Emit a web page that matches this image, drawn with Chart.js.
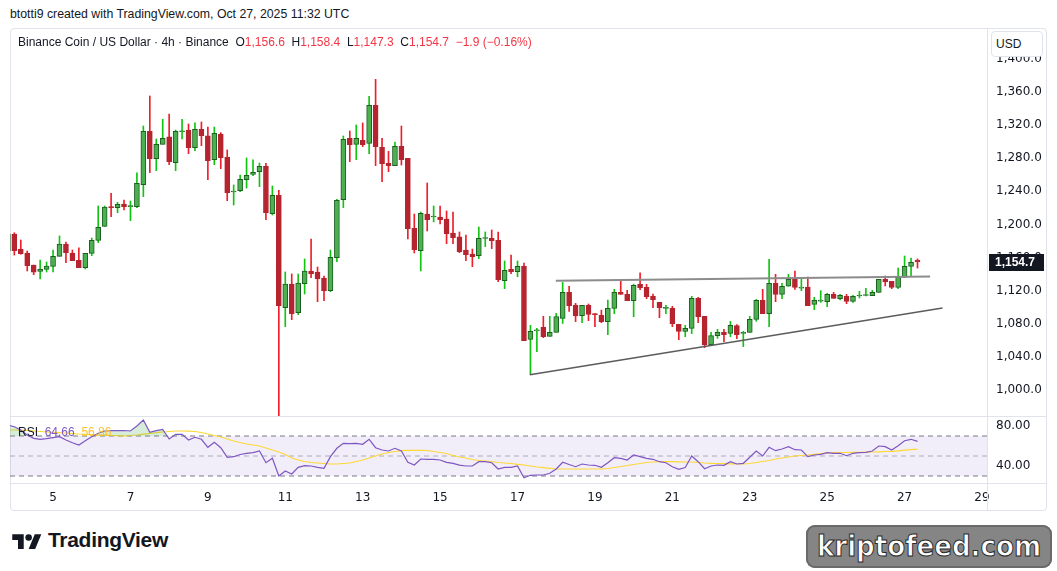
<!DOCTYPE html>
<html lang="en">
<head>
    <meta charset="UTF-8">
    <title>BNB / USD 4h</title>
    <script src="https://cdn.jsdelivr.net/npm/chart.js"></script>
    <style>
        body { margin: 0; width: 1057px; height: 571px; overflow: hidden; background: #fff;
               font-family: "Liberation Sans", Arial, sans-serif; color: #131722; position: relative; }
        .abs { position: absolute; }
        #frame { left: 10px; top: 28px; width: 1037px; height: 483px; box-sizing: border-box;
                 border: 1px solid #e0e3eb; border-radius: 4px; }
        .vline { left: 987px; top: 28px; width: 1px; height: 483px; background: #e0e3eb; }
        .hline { left: 10px; width: 1037px; height: 1px; background: #e0e3eb; }
        #title { left: 10px; top: 7px; font-size: 12.3px; white-space: nowrap; }
        #legend { left: 18px; top: 35px; font-size: 12px; white-space: nowrap; }
        #legend .v { color: #f23645; }
        #rsiLegend { left: 18px; top: 425px; font-size: 12px; white-space: nowrap; }
        #usd { left: 991px; top: 31px; width: 52px; height: 26px; box-sizing: border-box; background: #fff;
               border: 1px solid #e0e3eb; border-radius: 4px; font-size: 12px; line-height: 24px; padding-left: 4px; }
        #logo { left: 12px; top: 528px; font-size: 21px; font-weight: bold; letter-spacing: -0.3px; display: flex; align-items: center; }
        #logo svg { margin-right: 6px; }
        #mark { left: 806px; top: 525px; width: 246px; height: 43px; background: #858585; border-radius: 9px;
                box-shadow: inset 0 0 0 2px #6a6a6a; color: #fff; font-family: "DejaVu Sans Condensed", "DejaVu Sans", sans-serif;
                font-weight: bold; font-size: 29px; line-height: 43px; text-align: center;
                -webkit-text-stroke: 1px #2b2b2b; }
    </style>
</head>
<body>
    <div id="title" class="abs">btotti9 created with TradingView.com, Oct 27, 2025 11:32 UTC</div>
    <div id="frame" class="abs"></div>

    <canvas id="price" class="abs" width="1037" height="388" style="left:10px;top:28px"></canvas>
    <canvas id="rsi" class="abs" width="1037" height="95" style="left:10px;top:416px"></canvas>

    <div class="abs vline"></div>
    <div class="abs hline" style="top:416px"></div>
    <div class="abs hline" style="top:483px"></div>

    <div id="legend" class="abs">Binance Coin / US Dollar · 4h · Binance&nbsp;&nbsp;O<span class="v">1,156.6</span>&nbsp;&nbsp;H<span class="v">1,158.4</span>&nbsp;&nbsp;L<span class="v">1,147.3</span>&nbsp;&nbsp;C<span class="v">1,154.7</span>&nbsp;&nbsp;<span class="v">−1.9 (−0.16%)</span></div>
    <div id="usd" class="abs">USD</div>
    <div id="rsiLegend" class="abs">RSI&nbsp;&nbsp;<span style="color:#7e57c2">64.66</span>&nbsp;&nbsp;<span style="color:#fbc02d">56.86</span></div>

    <div id="logo" class="abs">
        <svg width="30" height="18" viewBox="0 0 36 22"><path d="M14 22H7V11H0V4h14v18zM28 22h-8l7.5-18h8L28 22z" fill="#131722"/><circle cx="20" cy="8" r="4" fill="#131722"/></svg>
        TradingView
    </div>
    <div id="mark" class="abs">kriptofeed.com</div>

    <script>
        // 4h candles, first one Oct 3 20:00 UTC, x value = day of month + hour/24
        const firstCandleDay = 3 + 20 / 24;
        const candleStep = 4 / 24;

        const opens = [1168.3, 1188.5, 1170.3, 1165.5, 1151, 1143.4, 1145.8, 1149.4, 1161.5, 1176.4,
            1165.5, 1156.7, 1147.8, 1165.1, 1180.8, 1197.7, 1221.5, 1220.3, 1224.7, 1221.5,
            1221.5, 1248.1, 1312.5, 1279.5, 1296.8, 1305.7, 1274.7, 1312, 1314.1, 1292.8,
            1314.9, 1306.9, 1278.3, 1309.3, 1281.1, 1239.2, 1240.8, 1254.1, 1260.5, 1263.8,
            1270.2, 1213, 1235.2, 1099.5, 1128.1, 1093.4, 1128.5, 1143.8, 1142.6, 1135.3,
            1120, 1159.9, 1229.9, 1304, 1296.8, 1301.6, 1298, 1343.9, 1293.2, 1273.8,
            1271, 1294.4, 1279.9, 1195.3, 1168.3, 1212.6, 1209, 1209, 1206.6, 1189.7,
            1184.9, 1169.1, 1164.3, 1162.3, 1183, 1183.2, 1180.8, 1132.1, 1145.8, 1143,
            1149.4, 1061.2, 1071.5, 1075.7, 1064.8, 1069.7, 1086.6, 1118, 1102.7, 1089.8,
            1102.3, 1092.2, 1090.2, 1082.6, 1098.7, 1118, 1115.6, 1107.9, 1127.7, 1124,
            1113.2, 1105.9, 1098.7, 1098.7, 1079.3, 1070.9, 1074.5, 1110.7, 1089, 1054.8,
            1065.6, 1069.7, 1068.5, 1077.7, 1068.5, 1069.7, 1085.4, 1108.3, 1092.2, 1128.9,
            1115.6, 1125.3, 1133.7, 1123, 1124.4, 1103.5, 1107.3, 1106.7, 1115.6, 1110.3,
            1113.2, 1107.1, 1113.6, 1114.2, 1114, 1118, 1133.7, 1131.3, 1124, 1136.1,
            1149.4, 1156.6];
        const highs = [1190, 1190, 1181.2, 1167.9, 1151, 1157.1, 1154.6, 1169.1, 1186.1, 1178.8,
            1169.1, 1171.6, 1165.1, 1183.6, 1222.3, 1222.3, 1237.6, 1226.7, 1229.5, 1228.3,
            1262.2, 1318.9, 1355.2, 1303.2, 1327, 1333.4, 1314.1, 1327, 1321.4, 1322.6,
            1323.8, 1317.7, 1317.7, 1310.9, 1290, 1247.7, 1259.7, 1280.3, 1277.9, 1274.2,
            1273.8, 1246.5, 1241.2, 1142.6, 1140.2, 1140.2, 1158.3, 1182.4, 1148.6, 1137.7,
            1169.1, 1230.4, 1306.9, 1312.9, 1320.2, 1322.6, 1354.8, 1375.3, 1304, 1288.3,
            1299.6, 1318.9, 1279.9, 1212.6, 1215, 1250.1, 1222.3, 1222.3, 1216.3, 1215,
            1190.9, 1187.3, 1170.3, 1196.9, 1190.9, 1193.3, 1190.9, 1155.9, 1163.1, 1155.9,
            1153.4, 1078.1, 1074.5, 1089, 1089, 1092.6, 1130.1, 1125.3, 1104.7, 1102.3,
            1103.9, 1092.2, 1096.6, 1108.7, 1121.6, 1131.7, 1120.4, 1127.7, 1141.4, 1127.7,
            1116, 1105.9, 1102.3, 1101.1, 1079.3, 1078.1, 1113.2, 1112, 1089, 1069.7,
            1073.3, 1073.3, 1083, 1078.9, 1070.9, 1089, 1109.5, 1121.6, 1157.9, 1139.8,
            1128.9, 1139.8, 1143.8, 1134.1, 1136.5, 1112, 1120, 1116.8, 1118, 1115.6,
            1115.6, 1114.4, 1119.2, 1122.8, 1120.4, 1133.7, 1137.7, 1131.3, 1147.4, 1161.9,
            1159.5, 1158.4];
        const lows = [1160, 1163, 1164, 1143.8, 1139.3, 1134.1, 1142.6, 1142.6, 1161.5, 1153.8,
            1156.3, 1147.8, 1146.2, 1162.3, 1178, 1197.7, 1209.4, 1214.2, 1217.5, 1204.6,
            1220.3, 1233.6, 1262.6, 1265, 1296.8, 1272.2, 1265, 1303.2, 1285.5, 1289.1,
            1295.2, 1254.1, 1272.2, 1267.4, 1228.7, 1223.5, 1239.6, 1244, 1259, 1245.7,
            1205.8, 1211.4, 860, 1076.5, 1085, 1091, 1116, 1135.7, 1106.7, 1108,
            1118.8, 1155, 1220.3, 1275.9, 1278.3, 1294, 1285.5, 1271, 1251.7, 1263.8,
            1271, 1271.8, 1182.4, 1165.5, 1143.8, 1192.1, 1203, 1200.6, 1176.8, 1176.8,
            1165.9, 1156.3, 1149, 1158.7, 1173.2, 1170.8, 1130.9, 1122.4, 1140.6, 1136.9,
            1059.6, 1018.5, 1046.3, 1063.2, 1064.8, 1069.7, 1080.5, 1095, 1082.6, 1081.3,
            1083.8, 1076.5, 1081.3, 1066.9, 1092.2, 1115.6, 1107.9, 1088.6, 1121.2, 1110.3,
            1099.5, 1087.4, 1092.2, 1076.5, 1060.8, 1064.4, 1068.1, 1081.3, 1051.2, 1053.6,
            1062.4, 1058.4, 1064.4, 1062, 1052.4, 1069.7, 1083, 1092.2, 1076.5, 1106.7,
            1110.3, 1125.3, 1121.6, 1120, 1101.9, 1097.1, 1105.9, 1100.7, 1110.7, 1108.7,
            1104.3, 1105.9, 1111.2, 1113.6, 1114, 1118, 1125.7, 1122.4, 1122.4, 1136.1,
            1137.7, 1147.3];
        const closes = [1188.5, 1168.3, 1164.7, 1150.2, 1142.2, 1146.2, 1149.8, 1161.5, 1176.4, 1165.9,
            1156.3, 1147.8, 1165.1, 1180.8, 1196.5, 1221.1, 1220.3, 1224.3, 1221.5, 1222.3,
            1249.7, 1312.5, 1279.5, 1296.8, 1304, 1275.9, 1312.5, 1312.5, 1292.8, 1314.9,
            1307.3, 1277.1, 1310.1, 1280.7, 1238.4, 1239.6, 1254.5, 1259.3, 1262.9, 1270.2,
            1214.2, 1235.2, 1101.9, 1128.1, 1092.2, 1129.3, 1143.8, 1140.6, 1134.1, 1120,
            1160.3, 1229.1, 1302.8, 1296.4, 1304, 1296.4, 1343.9, 1294, 1273.4, 1271,
            1294.4, 1278.3, 1194.9, 1169.5, 1213.4, 1205.8, 1209.2, 1205.8, 1188.9, 1184.1,
            1167.1, 1163.5, 1161.1, 1183.2, 1183.2, 1180.4, 1133.3, 1144.6, 1143, 1149.4,
            1059.6, 1070.9, 1071.7, 1064.4, 1069.7, 1088.6, 1118, 1101.9, 1089.4, 1102.3,
            1091.4, 1091, 1082.6, 1098.7, 1118, 1115.6, 1107.9, 1126.5, 1123.6, 1112.8,
            1109.1, 1099.5, 1098.9, 1080.1, 1070.9, 1074.5, 1110.7, 1088.6, 1054.8, 1065.6,
            1069.7, 1066.9, 1078.1, 1066.9, 1069.7, 1085.4, 1108.3, 1092.2, 1128.9, 1115.6,
            1125.3, 1133.7, 1124, 1123.3, 1101.9, 1108.3, 1107.5, 1115.6, 1110.7, 1114.4,
            1107.1, 1113.2, 1114.4, 1114.4, 1118, 1133.7, 1130.5, 1124, 1136.1, 1149.4,
            1154.2, 1154.7];

        const rsiValues = [81, 79.3, 76, 71, 67.7, 66.7, 67.3, 68.3, 69.3, 66,
            63.3, 61, 65.3, 69.3, 72.7, 75, 75.3, 75.3, 75.5, 75,
            80, 86, 73.7, 75.3, 76.7, 67, 71.7, 71.7, 66, 68.7,
            66.7, 58.7, 63.7, 58.3, 48.7, 49.3, 51.5, 52.7, 53.3, 55,
            43.3, 47.7, 30, 35, 32, 38.7, 40.3, 40, 38.7, 37.7,
            49.3, 57.7, 62.7, 62.3, 62.7, 61.7, 66.7, 58.3, 56, 55,
            57.7, 55, 43.7, 41, 47, 46.7, 46.7, 46, 43.7, 42.7,
            40.8, 40, 40, 44.3, 44.3, 43.3, 37, 38.7, 38.7, 40,
            28.3, 30.7, 31, 31, 32.7, 37, 43.7, 41.5, 39.3, 42,
            41, 40.7, 38.7, 43.3, 48.3, 47.7, 46, 51, 49.3, 47.7,
            46.7, 44.3, 43.3, 39.3, 36.7, 38.5, 50, 44.3, 37.3, 40,
            41, 40.7, 44.3, 42, 42.7, 48.7, 55, 50, 58.7, 55.3,
            57, 59.3, 56.3, 56, 49.3, 51, 51.7, 53.3, 52.7, 52.7,
            50.3, 52.7, 53.3, 53.7, 55, 60, 59.3, 56, 60.3, 65.3,
            66.7, 64.66];
        const rsiMaValues = [76, 76, 75.8, 75.5, 75, 74.5, 74, 73.7, 73.3, 73,
            72.5, 72, 71.7, 71.3, 71, 70.8, 70.5, 70.3, 70.2, 70.5,
            71, 71.8, 72.5, 73.3, 74, 74.5, 75, 75, 74.8, 74.5,
            73.5, 72, 70.5, 69, 67, 65, 63.5, 62, 61, 60,
            58, 56, 54, 51.5, 48, 46, 44.5, 43.5, 43, 42.5,
            42, 42, 42.5, 43, 44.5, 46, 48, 50, 52, 53.5,
            54.5, 55.3, 55.7, 55.7, 55.7, 55.5, 54.5, 53.5, 52.5, 50.5,
            49, 48, 46.5, 45.5, 45, 44.5, 43.5, 43, 42.5, 41.7,
            41, 40, 39, 38.3, 37.7, 37, 37, 37, 37, 37,
            37, 37, 37, 37.5, 38.5, 39.5, 40.5, 41.5, 42.5, 43.5,
            44, 44.3, 44.3, 44.3, 44.2, 44, 44, 43.5, 43, 42.7,
            42.5, 42.3, 42.2, 42, 42, 42.5, 43.5, 44.5, 45.5, 47,
            48, 49, 50, 50.5, 51, 51.7, 52.3, 53, 53.3, 53.5,
            53.5, 53.6, 53.7, 53.8, 54, 54.2, 54.5, 54.7, 55.2, 55.8,
            56.3, 56.86];

        // drawn trend lines (day, price)
        const resistanceDays = [17.99, 27.66];
        const resistancePrices = [1132, 1137];
        const supportDays = [17.32, 27.98];
        const supportPrices = [1018.5, 1099];

        const dayTicks = [5, 7, 9, 11, 13, 15, 17, 19, 21, 23, 25, 27, 29];
        const priceTicks = [1000, 1040, 1080, 1120, 1160, 1200, 1240, 1280, 1320, 1360, 1400];
        const rsiTicks = [40, 80];
        const rsiLevels = [70, 50, 30];

        const xMin = 3.888, xMax = 29.155;
        const axisFont = { family: '"DejaVu Sans", sans-serif', size: 12 };

        const days = opens.map((_, i) => firstCandleDay + i * candleStep);
        const up = closes.map((c, i) => c >= opens[i]);
        const fmtPrice = v => v.toLocaleString('en-US', { minimumFractionDigits: 1, maximumFractionDigits: 1 });
        const pts = (xs, ys) => xs.map((x, i) => ({ x: x, y: ys[i] }));

        // fixed axis size, and no label padding eating into the plot area
        const fitY = s => { s.width = 59; s.paddingTop = 0; s.paddingBottom = 0; };
        const fitX = s => { s.height = 28; s.paddingLeft = 0; s.paddingRight = 0; };

        // dark tag with the last close on the price axis
        const lastPriceTag = {
            id: 'lastPriceTag',
            afterDraw(chart) {
                const last = closes[closes.length - 1];
                const y = Math.round(chart.scales.y.getPixelForValue(last));
                const ctx = chart.ctx;
                const left = chart.chartArea.right + 1;
                ctx.save();
                ctx.fillStyle = '#131722';
                ctx.fillRect(left, y - 8, 55, 17);
                ctx.fillStyle = '#ffffff';
                ctx.font = 'bold 12px "Liberation Sans", Arial, sans-serif';
                ctx.textBaseline = 'middle';
                ctx.fillText(fmtPrice(last), left + 6, y + 1);
                ctx.restore();
            }
        };

        new Chart(document.getElementById('price'), {
            type: 'bar',
            data: {
                datasets: [
                    { type: 'line', data: pts(resistanceDays, resistancePrices), borderColor: '#8c8c8c', borderWidth: 2, pointRadius: 0, order: 0 },
                    { type: 'line', data: pts(supportDays, supportPrices), borderColor: '#5c5c5c', borderWidth: 1.5, pointRadius: 0, order: 0 },
                    {
                        data: days.map((d, i) => ({ x: d, y: [opens[i], closes[i]] })),
                        backgroundColor: up.map(u => u ? '#4caf50' : '#b5242f'),
                        borderColor: up.map(u => u ? '#1b5e20' : '#b5242f'),
                        borderWidth: 1, borderSkipped: false, barThickness: 5, minBarLength: 1,
                        grouped: false, order: 1
                    },
                    {
                        data: days.map((d, i) => ({ x: d, y: [lows[i], highs[i]] })),
                        backgroundColor: up.map(u => u ? '#12c412' : '#ee1f2a'),
                        barThickness: 1, grouped: false, order: 2
                    }
                ]
            },
            options: {
                responsive: false,
                animation: false,
                events: [],
                layout: { padding: 0 },
                plugins: { legend: { display: false }, tooltip: { enabled: false } },
                scales: {
                    x: { type: 'linear', min: xMin, max: xMax, offset: false, display: false },
                    y: {
                        position: 'right', min: 968.6, max: 1437.3,
                        grid: { display: false, drawTicks: false }, border: { display: false },
                        afterFit: fitY,
                        afterBuildTicks: s => { s.ticks = priceTicks.map(v => ({ value: v })); },
                        ticks: { padding: 8, color: '#131722', font: axisFont, callback: v => fmtPrice(v) }
                    }
                }
            },
            plugins: [lastPriceTag]
        });

        new Chart(document.getElementById('rsi'), {
            type: 'line',
            data: {
                datasets: [
                    {
                        data: pts(days, rsiValues), borderColor: '#7e57c2', borderWidth: 1.2, pointRadius: 0,
                        fill: { target: { value: 70 }, above: 'rgba(76,175,80,0.22)', below: 'rgba(0,0,0,0)' }
                    },
                    { data: pts(days, rsiMaValues), borderColor: '#fdd835', borderWidth: 1.2, pointRadius: 0 },
                    { data: pts([xMin, xMax], [rsiLevels[0], rsiLevels[0]]), borderColor: '#787b86', borderWidth: 1, borderDash: [5, 4], pointRadius: 0, fill: 4, backgroundColor: 'rgba(126,87,194,0.1)' },
                    { data: pts([xMin, xMax], [rsiLevels[1], rsiLevels[1]]), borderColor: '#b2b5be', borderWidth: 1, borderDash: [5, 4], pointRadius: 0 },
                    { data: pts([xMin, xMax], [rsiLevels[2], rsiLevels[2]]), borderColor: '#787b86', borderWidth: 1, borderDash: [5, 4], pointRadius: 0 }
                ]
            },
            options: {
                responsive: false,
                animation: false,
                events: [],
                layout: { padding: 0 },
                plugins: { legend: { display: false }, tooltip: { enabled: false } },
                scales: {
                    x: {
                        type: 'linear', min: xMin, max: xMax,
                        grid: { display: false, drawTicks: false }, border: { display: false },
                        afterFit: fitX,
                        afterBuildTicks: s => { s.ticks = dayTicks.map(v => ({ value: v })); },
                        ticks: { padding: 8, color: '#131722', font: axisFont, maxRotation: 0, autoSkip: false, callback: v => String(v) }
                    },
                    y: {
                        position: 'right', min: 23, max: 90,
                        grid: { display: false, drawTicks: false }, border: { display: false },
                        afterFit: fitY,
                        afterBuildTicks: s => { s.ticks = rsiTicks.map(v => ({ value: v })); },
                        ticks: { padding: 8, color: '#131722', font: axisFont, callback: v => v.toFixed(2) }
                    }
                }
            }
        });
    </script>
</body>
</html>
